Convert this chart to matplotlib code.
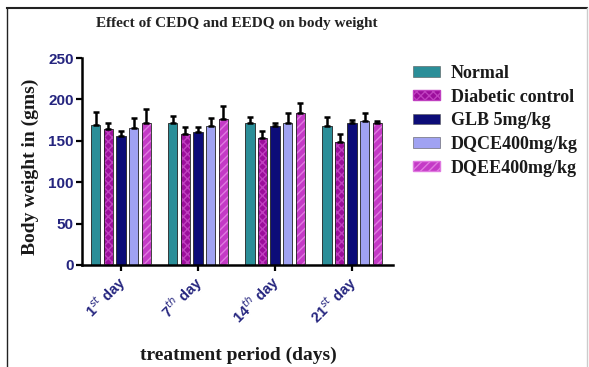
import numpy as np
import matplotlib
matplotlib.use('Agg')
import matplotlib.pyplot as plt
from matplotlib.patches import Patch
from matplotlib.lines import Line2D

plt.rcParams['mathtext.fontset'] = 'custom'
plt.rcParams['mathtext.rm'] = 'Liberation Sans:bold'
plt.rcParams['mathtext.bf'] = 'Liberation Sans:bold'
plt.rcParams['hatch.linewidth'] = 1.0

# ── data ─────────────────────────────────────────────────────────────────────
days = [r'1$^{st}$ day', r'7$^{th}$ day', r'14$^{th}$ day', r'21$^{st}$ day']
groups = ['Normal', 'Diabetic control', 'GLB 5mg/kg', 'DQCE400mg/kg', 'DQEE400mg/kg']
normal   = [169, 172, 171, 168]
diabetic = [164, 158, 153, 148]
glb      = [156, 161, 168, 171]
dqce     = [166, 168, 172, 174]
dqee     = [171, 176, 183, 172]
normal_err   = [16, 8, 8, 11]
diabetic_err = [8, 9, 9, 10]
glb_err      = [6, 6, 3, 4]
dqce_err     = [12, 10, 11, 9]
dqee_err     = [18, 16, 13, 2]

series = [normal, diabetic, glb, dqce, dqee]
errors = [normal_err, diabetic_err, glb_err, dqce_err, dqee_err]
fills = ['#2b8e98', '#9c0e9c', '#0c0c78', '#a0a2f2', '#c43ac6']
hatch_cols = [None, '#c040c0', None, None, '#e07ae0']
hatches = [None, 'xxxx', None, None, '////']

navy = '#25257f'

fig = plt.figure(figsize=(5.89, 3.67), dpi=100)
ax = fig.add_axes([82/589, 1-265/367, (393-82)/589, (265-58)/367])

x = np.arange(len(days))
slot = 0.164
width = 0.122
for i, (vals, err) in enumerate(zip(series, errors)):
    pos = x + (i - 2) * slot
    if hatches[i]:
        ax.bar(pos, vals, width, color=fills[i], edgecolor=hatch_cols[i],
               hatch=hatches[i], linewidth=0, zorder=2)
        ax.bar(pos, vals, width, fill=False, edgecolor='#222222', linewidth=0.6, zorder=3)
    else:
        ax.bar(pos, vals, width, color=fills[i], edgecolor='#222222', linewidth=0.6, zorder=2)
    ax.errorbar(pos, vals, yerr=[np.zeros(len(err)), err], fmt='none',
                ecolor='black', elinewidth=1.8, capsize=2.2, capthick=1.8, zorder=4)

ax.set_xlim(-0.506, 3.53)
ax.set_ylim(0, 250)
ax.set_yticks([0, 50, 100, 150, 200, 250])
ax.set_xticks(x)
ax.set_xticklabels(days, rotation=45, ha='right', va='center_baseline', rotation_mode='anchor')
for lab in ax.get_xticklabels():
    lab.set_fontfamily('Liberation Sans')
    lab.set_fontweight('bold')
    lab.set_fontsize(10.5)
    lab.set_color(navy)
for lab in ax.get_yticklabels():
    lab.set_fontfamily('Liberation Sans')
    lab.set_fontweight('bold')
    lab.set_fontsize(11)
    lab.set_color(navy)
ax.tick_params(axis='both', direction='out', length=4, width=1.6, color='black', pad=2)
ax.tick_params(axis='x', pad=5)
ax.spines['top'].set_visible(False)
ax.spines['right'].set_visible(False)
for sp in ['left', 'bottom']:
    ax.spines[sp].set_linewidth(1.8)

serif = dict(family='Liberation Serif', fontweight='bold')
fig.text(237/589, 1-24/367, 'Effect of CEDQ and EEDQ on body weight', ha='center',
         va='center', fontsize=11, color='#222222', **serif)
fig.text(30/589, 1-167/367, 'Body weight in (gms)', rotation=90, ha='center',
         va='center', fontsize=14, color='#1a1a1a', **serif)
fig.text(238/589, 1-355/367, 'treatment period (days)', ha='center', va='center',
         fontsize=14, color='#1a1a1a', **serif)

handles = []
for i in range(len(groups)):
    if hatches[i]:
        handles.append(Patch(facecolor=fills[i], edgecolor=hatch_cols[i], hatch=hatches[i]))
    else:
        handles.append(Patch(facecolor=fills[i], edgecolor='#555555', linewidth=0.4))
leg = fig.legend(handles, groups, loc='upper left', bbox_to_anchor=(413/589, 1-65/367),
                 frameon=False, prop={'family': 'Liberation Serif', 'weight': 'bold', 'size': 13},
                 handlelength=1.5, handleheight=0.5, labelspacing=0.37, handletextpad=0.6,
                 borderaxespad=0, borderpad=0)
for t in leg.get_texts():
    t.set_color('#1a1a1a')

# outer frame
fig.add_artist(Line2D([7/589, 587/589], [1-8/367, 1-8/367], color='#222222', lw=1.5,
                      transform=fig.transFigure))
fig.add_artist(Line2D([7/589, 7/589], [0, 1-8/367], color='#222222', lw=1.0,
                      transform=fig.transFigure))
fig.add_artist(Line2D([587/589, 587/589], [0, 1-8/367], color='#cccccc', lw=1.0,
                      transform=fig.transFigure))

fig.savefig('out.png', dpi=100)
